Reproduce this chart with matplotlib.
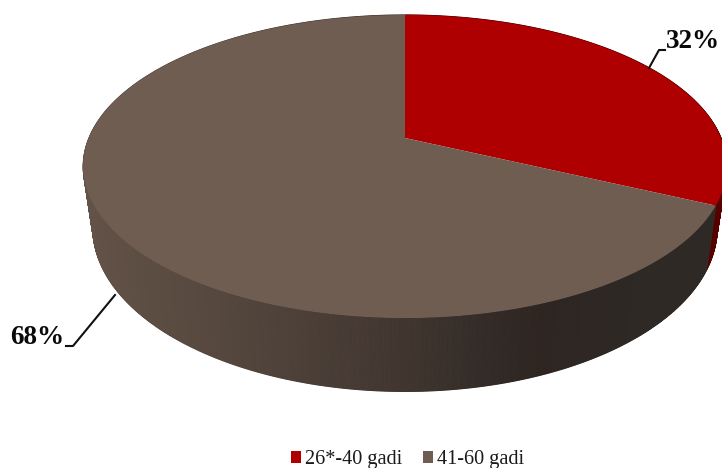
import numpy as np
import matplotlib
matplotlib.use('Agg')
import matplotlib.pyplot as plt
from matplotlib.colors import LinearSegmentedColormap
from matplotlib.patches import Polygon, Patch

# Data
labels = ['26*-40 gadi', '41-60 gadi']
shares = [32, 68]
share_text = ['32%', '68%']
top_colors = ['#ae0000', '#6f5d52']

plt.rcParams['font.family'] = ['Liberation Serif', 'DejaVu Serif']

# shading of the rim runs left to right across the picture
rim_cmap = LinearSegmentedColormap.from_list('rim', [
    (0.0, '#625248'), (0.18, '#57493f'), (0.34, '#4b3f38'), (0.50, '#41362f'),
    (0.62, '#342c28'), (0.72, '#2e2521'), (0.88, '#2e2925'), (1.0, '#2e2925')])


def project(ang):
    # clockwise from 12 o'clock, disc seen in perspective
    u = np.sin(ang)
    v = np.cos(ang)
    w = 1 + 0.188 * v
    return 405 + 316 * u / w, (138 - 120.2 * v) / w


def project_low(ang):
    x, y = project(ang)
    return 405 + (x - 405) * 0.97, y * 1.08 + 48


def side_color(x, red):
    if red:
        return '#560000'
    return rim_cmap((x - 85) / (722 - 85))


fig = plt.figure(figsize=(7.22, 4.68), dpi=100)
ax = fig.add_axes([0, 0, 1, 1])
ax.set_xlim(0, 722)
ax.set_ylim(468, 0)
ax.set_axis_off()

edges = 2 * np.pi * np.cumsum([0] + shares) / sum(shares)

# Rim, split in thin strips so the shading shows
for i in range(len(shares)):
    n = int(np.degrees(edges[i + 1] - edges[i]) * 4) + 2
    t = np.linspace(edges[i], edges[i + 1], n)
    for a0, a1 in zip(t[:-1], t[1:]):
        x0, y0 = project(a0)
        x1, y1 = project(a1)
        x2, y2 = project_low(a1)
        x3, y3 = project_low(a0)
        c = side_color((x0 + x1) / 2, i == 0)
        ax.add_patch(Polygon([(x0, y0), (x1, y1), (x2, y2), (x3, y3)],
                             facecolor=c, edgecolor=c, linewidth=0.8, zorder=1))

# Top of the pie
for i in range(len(shares)):
    t = np.linspace(edges[i], edges[i + 1], 200)
    x, y = project(t)
    pts = np.column_stack([np.r_[405, x], np.r_[138, y]])
    ax.add_patch(Polygon(pts, facecolor=top_colors[i], edgecolor='none', zorder=3))

# Labels with leader lines
ax.plot([649, 659, 665], [68, 50, 50], color='#111111', lw=1.5, zorder=4)
ax.text(666, 42, share_text[0], fontsize=19.5, fontweight='bold', va='center', ha='left', color='#0a0a0a')
ax.plot([115, 73, 66], [295, 346, 346], color='#111111', lw=1.5, zorder=4)
ax.text(10, 337, share_text[1], fontsize=19.5, fontweight='bold', va='center', ha='left', color='#0a0a0a')

# Legend
handles = [Patch(facecolor=c, edgecolor='none') for c in top_colors]
ax.legend(handles, labels, loc='lower center', bbox_to_anchor=(0.5645, -0.042), ncol=2, frameon=False,
          fontsize=14.6, handlelength=0.5, handleheight=0.5, handletextpad=0.2, columnspacing=1.05,
          labelcolor='#1a1a1a')

fig.savefig('out.png', dpi=100)
